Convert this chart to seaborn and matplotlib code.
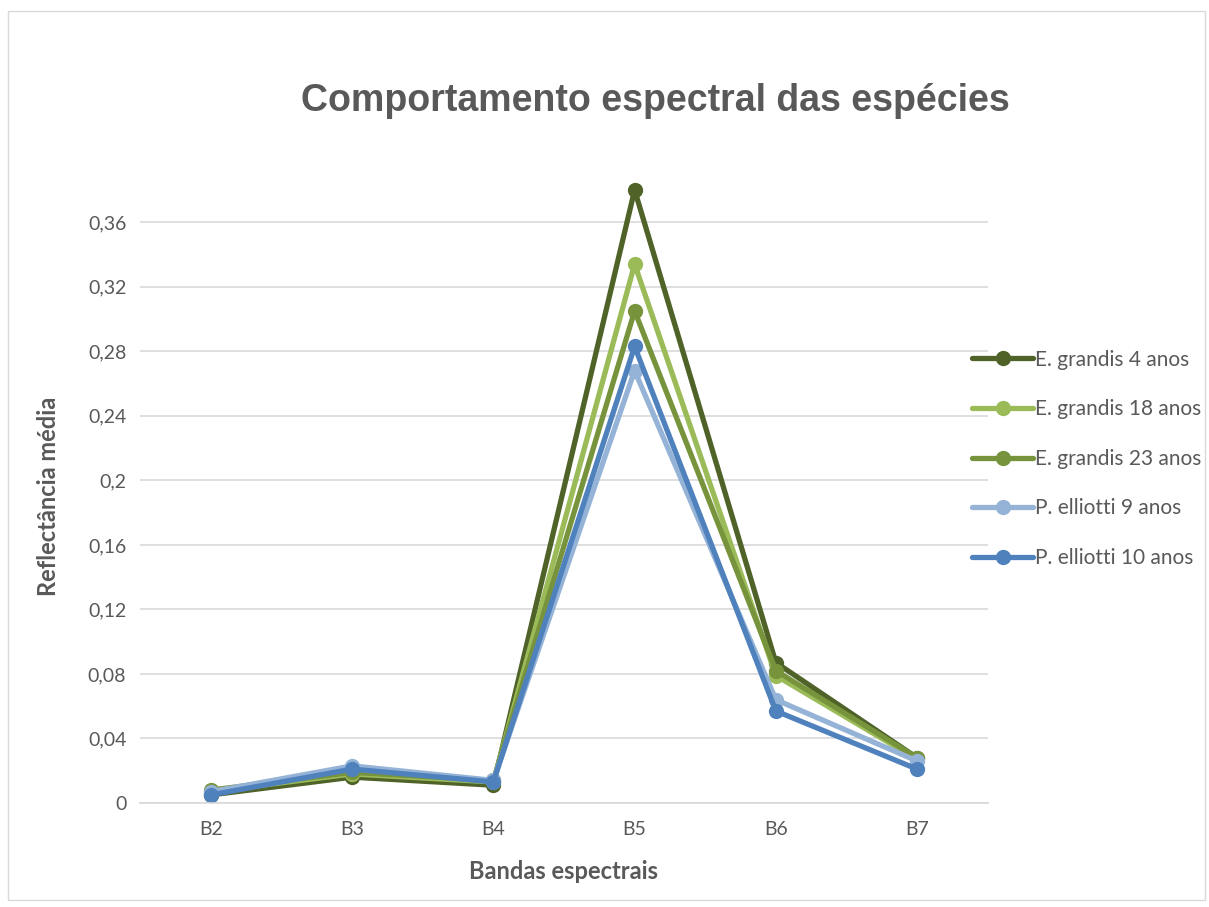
import matplotlib
matplotlib.use("Agg")
import matplotlib.pyplot as plt
import seaborn as sns
import pandas as pd
from matplotlib.patches import Rectangle

bands = ["B2", "B3", "B4", "B5", "B6", "B7"]
e_grandis_4 = [0.005, 0.016, 0.011, 0.380, 0.087, 0.028]
e_grandis_18 = [0.007, 0.018, 0.013, 0.334, 0.079, 0.027]
e_grandis_23 = [0.008, 0.019, 0.014, 0.305, 0.082, 0.028]
p_elliotti_9 = [0.007, 0.023, 0.014, 0.268, 0.064, 0.026]
p_elliotti_10 = [0.005, 0.021, 0.013, 0.283, 0.057, 0.021]

series_names = ["E. grandis 4 anos", "E. grandis 18 anos", "E. grandis 23 anos",
                "P. elliotti 9 anos", "P. elliotti 10 anos"]
series_vals = [e_grandis_4, e_grandis_18, e_grandis_23, p_elliotti_9, p_elliotti_10]
colors = ["#4F6228", "#9BBB59", "#77933C", "#95B3D7", "#4F81BD"]

rows = []
for name, vals in zip(series_names, series_vals):
    for i, (b, v) in enumerate(zip(bands, vals)):
        rows.append({"pos": i, "band": b, "value": v, "serie": name})
df = pd.DataFrame(rows)

sns.set_theme(style="white")
plt.rcParams["font.family"] = ["Lato", "DejaVu Sans"]

fig = plt.figure(figsize=(12.09, 9.07), dpi=100)
ax = fig.add_axes([0.116, 0.1147, 0.701, 0.6758])

sns.lineplot(data=df, x="pos", y="value", hue="serie", hue_order=series_names,
             palette=colors, marker="o", markersize=11, markeredgewidth=0,
             linewidth=3.8, ax=ax, clip_on=False, sort=False)
for l in ax.lines:
    l.set_clip_on(False)

ax.set_xlim(-0.5, 5.5)
ax.set_ylim(0, 0.38)
ax.set_xticks(range(len(bands)))
ax.set_xticklabels(bands)
yt = [0, 0.04, 0.08, 0.12, 0.16, 0.2, 0.24, 0.28, 0.32, 0.36]
ax.set_yticks(yt)
ax.set_yticklabels(["0", "0,04", "0,08", "0,12", "0,16", "0,2", "0,24", "0,28", "0,32", "0,36"])
ax.grid(axis="y", color="#D9D9D9", linewidth=1.2)
ax.set_axisbelow(True)
for s in ["top", "right", "left"]:
    ax.spines[s].set_visible(False)
ax.spines["bottom"].set_color("#D9D9D9")
ax.spines["bottom"].set_linewidth(1.2)
ax.tick_params(axis="both", colors="#595959", labelsize=14, length=0)
ax.tick_params(axis="x", pad=13)
ax.tick_params(axis="y", pad=10)

ax.set_xlabel("Bandas espectrais", fontsize=17, fontweight="bold", color="#595959", labelpad=16)
ax.set_ylabel("Reflectância média", fontsize=17, fontweight="bold", color="#595959", labelpad=20)

fig.text(0.542, 0.889, "Comportamento espectral das espécies", ha="center", va="center",
         fontsize=27, fontweight="bold", color="#595959", family=["Liberation Sans", "DejaVu Sans"])

handles, labels = ax.get_legend_handles_labels()
leg = ax.legend(handles, labels, loc="upper left", bbox_to_anchor=(0.972, 0.753),
                frameon=False, fontsize=15, labelcolor="#595959",
                handlelength=2.9, handletextpad=0.1, labelspacing=1.42, borderaxespad=0)

fig.patches.append(Rectangle((0.007, 0.008), 0.99, 0.98, transform=fig.transFigure,
                             fill=False, edgecolor="#D9D9D9", linewidth=1))

fig.savefig("out.png", dpi=100)
